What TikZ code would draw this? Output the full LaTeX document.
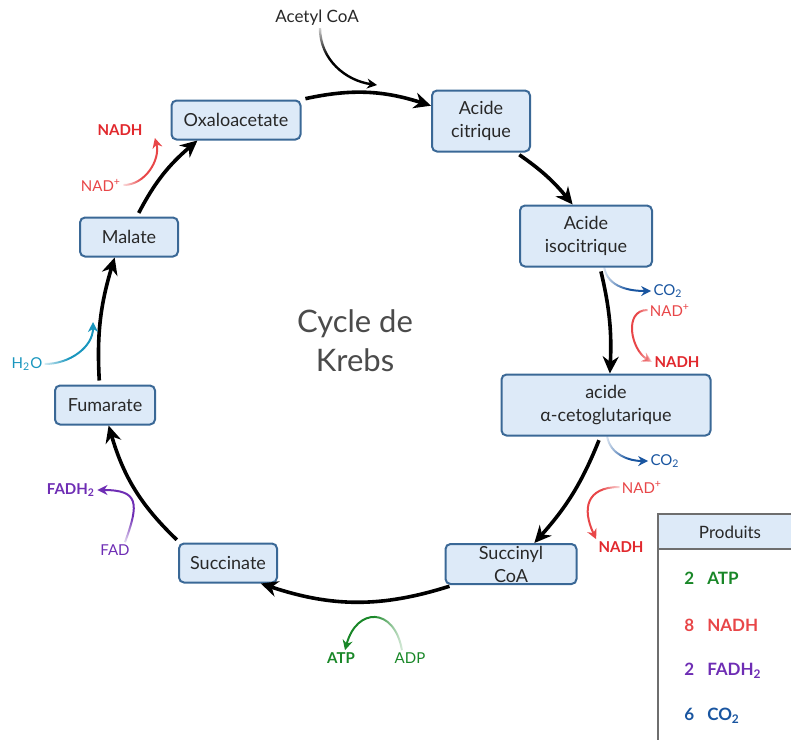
\documentclass[tikz,border=0pt]{standalone}
\usepackage{fontspec}
\setmainfont{Lato}
\usetikzlibrary{arrows.meta,fadings}
\definecolor{boxfill}{RGB}{221,234,248}
\definecolor{boxline}{RGB}{58,104,150}
\definecolor{boxtext}{RGB}{40,40,40}
\definecolor{titlegray}{RGB}{75,75,75}
\definecolor{nadred}{RGB}{232,70,72}
\definecolor{nadhred}{RGB}{225,40,45}
\definecolor{co2blue}{RGB}{25,85,160}
\definecolor{h2ocyan}{RGB}{25,150,190}
\definecolor{fadpurple}{RGB}{110,45,180}
\definecolor{atpgreen}{RGB}{25,135,40}
\definecolor{tablegray}{RGB}{110,110,110}
\tikzfading[name=fadeleft, left color=transparent!85, right color=transparent!0, middle color=transparent!0]
\tikzfading[name=faderight, left color=transparent!0, right color=transparent!85, middle color=transparent!0]
\tikzfading[name=fadetop, top color=transparent!85, bottom color=transparent!0, middle color=transparent!0]
\tikzfading[name=fadebottom, top color=transparent!0, bottom color=transparent!85, middle color=transparent!0]
\begin{document}
\begin{tikzpicture}[x=.5pt,y=.5pt,
  box/.style={draw=boxline,fill=boxfill,line width=1pt,rounded corners=2.5pt,
    align=center,text=boxtext,inner sep=0pt,font=\fontsize{9}{11.5}\selectfont},
  cyc/.style={line width=1.8pt,-{Stealth[length=8.5pt,width=8pt]},shorten <=2pt},
  side/.style={line width=1pt,-{Stealth[length=5pt,width=5pt]}},
  lbl/.style={inner sep=1pt,font=\fontsize{7.5}{9}\selectfont},
  lblb/.style={inner sep=1pt,font=\fontsize{7.5}{9}\selectfont\bfseries},
  prod/.style={anchor=west,inner sep=0pt,font=\fontsize{8.5}{10}\selectfont\bfseries}]
\useasboundingbox (0,0) rectangle (791,-740);
%
% les etapes du cycle
\node[box,minimum width=64.5pt,minimum height=19.5pt] (oxalo) at (236,-120) {Oxaloacetate};
\node[box,minimum width=49pt,minimum height=30.5pt] (citrique) at (481,-121) {Acide\\citrique};
\node[box,minimum width=66pt,minimum height=30.5pt] (isocitrique) at (586,-236) {Acide\\isocitrique};
\node[box,minimum width=104.5pt,minimum height=30.5pt] (cetoglu) at (606,-405) {acide\\α-cetoglutarique};
\node[box,minimum width=65.5pt,minimum height=20pt] (succinylcoa) at (511,-564) {Succinyl\\CoA};
\node[box,minimum width=49pt,minimum height=19.5pt] (succinate) at (228,-563) {Succinate};
\node[box,minimum width=50pt,minimum height=19.5pt] (fumarate) at (105,-405) {Fumarate};
\node[box,minimum width=49pt,minimum height=19.5pt] (malate) at (129,-237) {Malate};
\node[align=center,text=titlegray,font=\fontsize{15.5}{19.5}\selectfont] (titre) at (355,-341) {Cycle de\\Krebs};
%
\draw[cyc] (oxalo.north east) to[bend left=15] (citrique.163);
\draw[cyc] (citrique.-42) to[bend left=8] (isocitrique.113);
\draw[cyc] (isocitrique.-66) to[bend left=8] (cetoglu.83);
\draw[cyc] (cetoglu.-100) to[bend left=10] (succinylcoa.42);
\draw[cyc] (succinylcoa.200) to[bend left=18] (succinate.-32);
\draw[cyc] (succinate.157) to[bend left=15] (fumarate.-80);
\draw[cyc] (fumarate.105) to[bend left=10] (malate.-125);
\draw[cyc] (malate.69) to[bend left=11] (oxalo.208);
%
% entrees et sorties
\node[lbl,text=boxtext,font=\fontsize{8.5}{10}\selectfont] (acetyl) at (317,-18) {Acetyl CoA};
\coordinate (acetylend) at (377,-85);
\draw[side,line width=1.2pt,path fading=fadetop] ([xshift=1.5pt]acetyl.south) to[out=-90,in=172] (acetylend);
%
\node[lbl,text=co2blue] (co2A) at (668,-291) {CO\textsubscript{2}};
\draw[side,co2blue,path fading=fadeleft] (isocitrique.-60) to[out=-80,in=180] (co2A.west);
\node[lbl,text=nadred] (nadA) at (670,-310) {NAD\textsuperscript{+}};
\node[lblb,text=nadhred] (nadhA) at (677,-362) {NADH};
\draw[side,nadred,path fading=faderight] (nadA.west) to[out=180,in=150,looseness=1.2] (nadhA.west);
%
\node[lbl,text=co2blue] (co2B) at (665,-461) {CO\textsubscript{2}};
\draw[side,co2blue,path fading=fadeleft] (cetoglu.-88) to[out=-80,in=180] (co2B.west);
\node[lbl,text=nadred] (nadB) at (642,-487) {NAD\textsuperscript{+}};
\node[lblb,text=nadhred] (nadhB) at (621,-547) {NADH};
\draw[side,nadred,path fading=faderight] (nadB.west) to[out=180,in=115,looseness=1.5] (nadhB.north west);
%
\node[lblb,text=atpgreen] (atp) at (341,-658) {ATP};
\node[lbl,text=atpgreen] (adp) at (410,-658) {ADP};
\draw[side,atpgreen,path fading=faderight] ([xshift=-4pt]adp.north) to[out=100,in=75,looseness=2] ([xshift=2pt]atp.north);
%
\node[lblb,text=fadpurple] (fadh) at (71,-490) {FADH\textsubscript{2}};
\node[lbl,text=fadpurple] (fad) at (115,-550) {FAD};
\draw[side,fadpurple,path fading=fadebottom] ([xshift=5pt]fad.north) to[out=70,in=0,looseness=1.8] (fadh.east);
%
\node[lbl,text=h2ocyan] (h2o) at (27,-364) {H\textsubscript{2}O};
\coordinate (h2oend) at (93,-322);
\draw[side,h2ocyan,path fading=fadeleft] (h2o.east) to[out=0,in=-90] (h2oend);
%
\node[lbl,text=nadred] (nadC) at (101,-185) {NAD\textsuperscript{+}};
\node[lblb,text=nadhred] (nadhC) at (120,-130) {NADH};
\draw[side,nadred,path fading=fadeleft] (nadC.east) to[out=0,in=-75] ([shift={(5pt,-4pt)}]nadhC.east);
%
% tableau des produits
\fill[boxfill] (658,-514) rectangle (791,-549);
\draw[tablegray,line width=.6pt] (791,-514) -- (658,-514) -- (658,-740);
\draw[tablegray,line width=.6pt] (658,-549) -- (791,-549);
\node[lbl,text=boxtext,font=\fontsize{8.5}{10}\selectfont] (produits) at (730,-532) {Produits};
\node[prod,text=atpgreen] (p1) at (684,-578) {2\hspace{6.5pt}ATP};
\node[prod,text=nadred] (p2) at (684,-625) {8\hspace{6.5pt}NADH};
\node[prod,text=fadpurple] (p3) at (684,-671) {2\hspace{6.5pt}FADH\textsubscript{2}};
\node[prod,text=co2blue] (p4) at (684,-716) {6\hspace{6.5pt}CO\textsubscript{2}};
\end{tikzpicture}
\end{document}
